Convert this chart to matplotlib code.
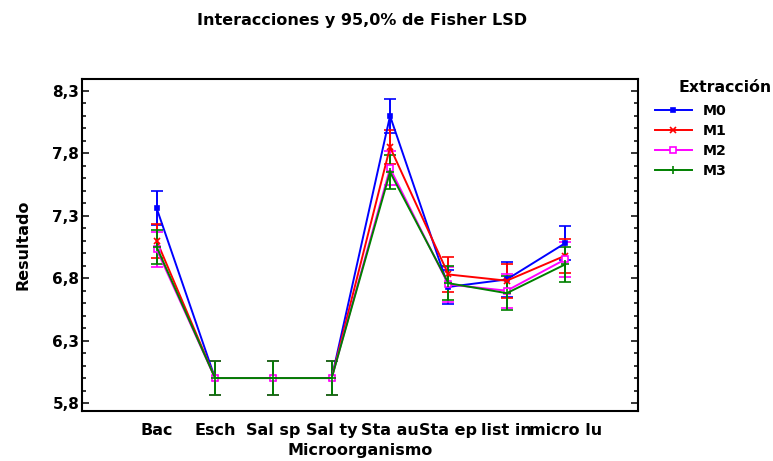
import numpy as np
import matplotlib
matplotlib.use("Agg")
import matplotlib.pyplot as plt
from matplotlib.lines import Line2D
from matplotlib.ticker import FixedLocator, MultipleLocator, FuncFormatter

microorganisms = ["Bac", "Esch", "Sal sp", "Sal ty", "Sta au", "Sta ep", "list in", "micro lu"]
extraction = ["M0", "M1", "M2", "M3"]

m0 = [7.36, 6.00, 6.00, 6.00, 8.10, 6.73, 6.79, 7.08]
m1 = [7.10, 6.00, 6.00, 6.00, 7.85, 6.83, 6.78, 6.98]
m2 = [7.03, 6.00, 6.00, 6.00, 7.68, 6.75, 6.70, 6.95]
m3 = [7.05, 6.00, 6.00, 6.00, 7.65, 6.76, 6.68, 6.91]

# half width of the 95% Fisher LSD interval
lsd_half = 0.137

series = [m0, m1, m2, m3]
colors = ["#0000ff", "#ff0000", "#ff00ff", "#008000"]
markers = ["s", "x", "s", "+"]
msizes = [3.5, 5, 4.5, 6]
mfaces = ["#0000ff", "#ff0000", "white", "#008000"]

fig = plt.figure(figsize=(7.73, 4.61), dpi=100)
ax = fig.add_axes([82 / 773, 1 - 411 / 461, (638 - 82) / 773, (411 - 79) / 461])

x = np.arange(len(microorganisms))
handles = []
for name, vals, c, mk, ms, mf in zip(extraction, series, colors, markers, msizes, mfaces):
    ax.errorbar(x, vals, yerr=lsd_half, color=c, lw=1.4, capsize=4.5, capthick=1.2,
                elinewidth=1.4, marker=mk, ms=ms, mfc=mf, mec=c, mew=1.2)
    handles.append(Line2D([], [], color=c, lw=1.4, marker=mk, ms=ms, mfc=mf, mec=c,
                          mew=1.2, label=name))

ax.set_xlim(-1.28, 8.25)
ax.set_ylim(5.736, 8.396)

ax.yaxis.set_major_locator(FixedLocator([5.8, 6.3, 6.8, 7.3, 7.8, 8.3]))
ax.yaxis.set_minor_locator(MultipleLocator(0.1))
ax.yaxis.set_major_formatter(FuncFormatter(lambda v, p: f"{v:.1f}".replace(".", ",")))
ax.set_xticks(x)
ax.set_xticklabels(microorganisms, fontsize=11.5, fontweight="bold")
ax.tick_params(axis="x", bottom=False, pad=5)
ax.tick_params(axis="y", which="both", direction="in", left=True, right=True,
               width=1.1, pad=2, labelsize=11)
ax.tick_params(axis="y", which="major", length=5)
ax.tick_params(axis="y", which="minor", length=3)
for lbl in ax.get_yticklabels():
    lbl.set_fontweight("bold")
for sp in ax.spines.values():
    sp.set_linewidth(1.5)

ax.set_xlabel("Microorganismo", fontsize=11.5, fontweight="bold", labelpad=4)
ax.set_ylabel("Resultado", fontsize=11.5, fontweight="bold", labelpad=16)

fig.text(0.469, 1 - 21 / 461, "Interacciones y 95,0% de Fisher LSD", ha="center", va="center",
         fontsize=11.5, fontweight="bold")

fig.text(679 / 773, 1 - 88 / 461, "Extracción", ha="left", va="center",
         fontsize=11.3, fontweight="bold")
ax.legend(handles=handles, loc="upper left", bbox_to_anchor=(655 / 773, 1 - 104 / 461),
          bbox_transform=fig.transFigure, frameon=False, prop={"size": 10.2, "weight": "bold"},
          handlelength=2.6, handletextpad=0.75, labelspacing=0.42, borderpad=0,
          borderaxespad=0)

fig.savefig("out.png", dpi=100)
